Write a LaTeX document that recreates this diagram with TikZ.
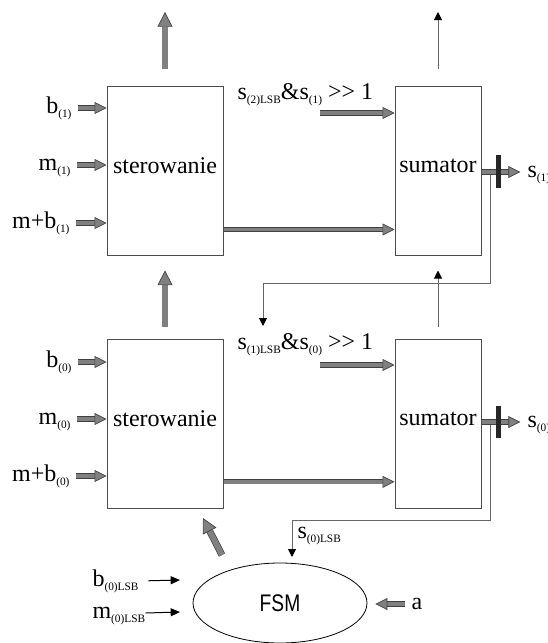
\documentclass[tikz,border=0pt]{standalone}
\usepackage{fontspec}
\setmainfont{Liberation Serif}
\newfontfamily\fsmfont{Liberation Sans}
\usepackage{graphicx}
\usetikzlibrary{arrows.meta,shapes.geometric,positioning}
\newcommand{\sbx}[1]{\raisebox{-3pt}{\fontsize{8.5}{9}\selectfont #1}}
\tikzset{every picture/.style={line width=0.75pt}}
\tikzset{
blok/.style={draw=black!70, line width=0.75pt, inner sep=0pt},
lbl/.style={inner sep=0pt, text height=12.5pt, text depth=5pt},
fat/.style={draw=black!75, line width=0.5pt, double=black!50, double distance=2.8pt,
  -{Triangle[length=9pt, width=9pt, fill=black!50]}},
bigfat/.style={draw=black!75, line width=0.5pt, double=black!50, double distance=4.2pt,
  -{Triangle[length=11pt, width=11.25pt, fill=black!50]}},
thinarr/.style={draw=black!60, line width=0.75pt, -{Triangle[length=6pt, width=6pt, color=black]}},
blkarr/.style={draw=black, line width=0.75pt, -{Triangle[length=7pt, width=6pt]}},
cutbar/.style={draw=black!85, line width=3.75pt}
}

\begin{document}
\begin{tikzpicture}[x=0.75pt,y=0.75pt,yscale=-1,xscale=1,font=\fontsize{18}{20}\selectfont]
\useasboundingbox (0,0) rectangle (547,643);

%Shape: Rectangle -- stage 1
\node[blok, minimum width=87pt, minimum height=126.75pt, label={[yshift=3.5pt]center:sterowanie}] (ster1) at (165,170.5) {};
\node[blok, minimum width=64.5pt, minimum height=126.75pt, label={[yshift=3.5pt]center:sumator}] (sum1) at (438,170.5) {};
%Shape: Rectangle -- stage 0
\node[blok, minimum width=87pt, minimum height=126.75pt, label={[yshift=3.5pt]center:sterowanie}] (ster0) at (165,423.5) {};
\node[blok, minimum width=64.5pt, minimum height=126.75pt, label={[yshift=3.5pt]center:sumator}] (sum0) at (438,423.5) {};
%Shape: Ellipse
\node[draw=black, line width=0.6pt, ellipse, inner sep=0pt, minimum width=130.5pt, minimum height=60pt] (fsm) at (280,603) {\fsmfont\scalebox{0.8}[1]{FSM}};

% Text Node
\node[lbl, anchor=east] (b1) at (72,108) {b\sbx{(1)}};
\node[lbl, anchor=east] (m1) at (71,165) {m\sbx{(1)}};
\node[lbl, anchor=east] (mb1) at (70,223) {m+b\sbx{(1)}};
\node[lbl, anchor=east] (b0) at (72,362) {b\sbx{(0)}};
\node[lbl, anchor=east] (m0) at (71,419) {m\sbx{(0)}};
\node[lbl, anchor=east] (mb0) at (70,476) {m+b\sbx{(0)}};
\node[lbl, anchor=west] (sh1) at (237,94) {s\sbx{(2)LSB}\&s\sbx{(1)} >{}> 1};
\node[lbl, anchor=west] (sh0) at (237,344) {s\sbx{(1)LSB}\&s\sbx{(0)} >{}> 1};
\node[lbl, anchor=west] (s1) at (527,172) {s\sbx{(1)}};
\node[lbl, anchor=west] (s0) at (527,422) {s\sbx{(0)}};
\node[lbl, anchor=west] (slsb) at (297,533) {s\sbx{(0)LSB}};
\node[lbl, anchor=west] (blsb) at (92,581) {b\sbx{(0)LSB}};
\node[lbl, anchor=west] (mlsb) at (92,613) {m\sbx{(0)LSB}};
\node[lbl, anchor=west] (a) at (411,604) {a};

\coordinate (ster1out) at (165,12);
\coordinate (sum1out) at (438,12);
\coordinate (sin1) at (320,113);
\coordinate (sin0) at (320,365);
\coordinate (fb1) at (490,172);
\coordinate (fb0) at (490,422);
\coordinate (s1back) at (263,326);
\coordinate (fsmback) at (292,557);
\coordinate (fsmtail) at (222,555);
\coordinate (ster0in) at (203,518);
\coordinate (fsmb) at (180,580);
\coordinate (fsmm) at (180,612);

%Straight Lines -- inputs
\foreach \n in {b1,m1,mb1,b0,m0,mb0}
  \draw[fat, shorten <=4.5pt] (\n.east) -- (\n.east -| ster1.west);
\draw[fat] (sin1) -- (sin1 -| sum1.west);
\draw[fat] (sin0) -- (sin0 -| sum0.west);
\draw[fat] ([yshift=-19.5pt]ster1.south east) -- ([yshift=-19.5pt]sum1.south west);
\draw[fat] ([yshift=-20pt]ster0.south east) -- ([yshift=-20pt]sum0.south west);

%Straight Lines -- between stages
\draw[bigfat, shorten <=12.75pt] (ster1.north) -- (ster1out);
\draw[bigfat, shorten <=9pt, shorten >=11.25pt] (ster0.north) -- (ster1.south);
\draw[thinarr, shorten <=12.75pt] (sum1.north) -- (sum1out);
\draw[thinarr, shorten <=9pt, shorten >=11.25pt] (sum0.north) -- (sum1.south);
\draw[bigfat] (fsmtail) -- (ster0in);

%Straight Lines -- outputs
\draw[thinarr] (fb1) -- (490,283) -| (s1back);
\draw[thinarr] (fb0) -- (490,520) -| (fsmback);
\draw[fat, shorten >=5pt] (sum1.east |- s1) -- (s1.west);
\draw[fat, shorten >=5pt] (sum0.east |- s0) -- (s0.west);
\draw[cutbar] (498,155) -- (498,188);
\draw[cutbar] (498,406) -- (498,438);

%Straight Lines -- FSM inputs
\draw[fat, shorten <=4.5pt, shorten >=6pt] (a.west) -- (a.west -| fsm.east);
\draw[blkarr, shorten <=7pt] (blsb.east) -- (fsmb);
\draw[blkarr] (mlsb.east) -- (fsmm);

\end{tikzpicture}
\end{document}
